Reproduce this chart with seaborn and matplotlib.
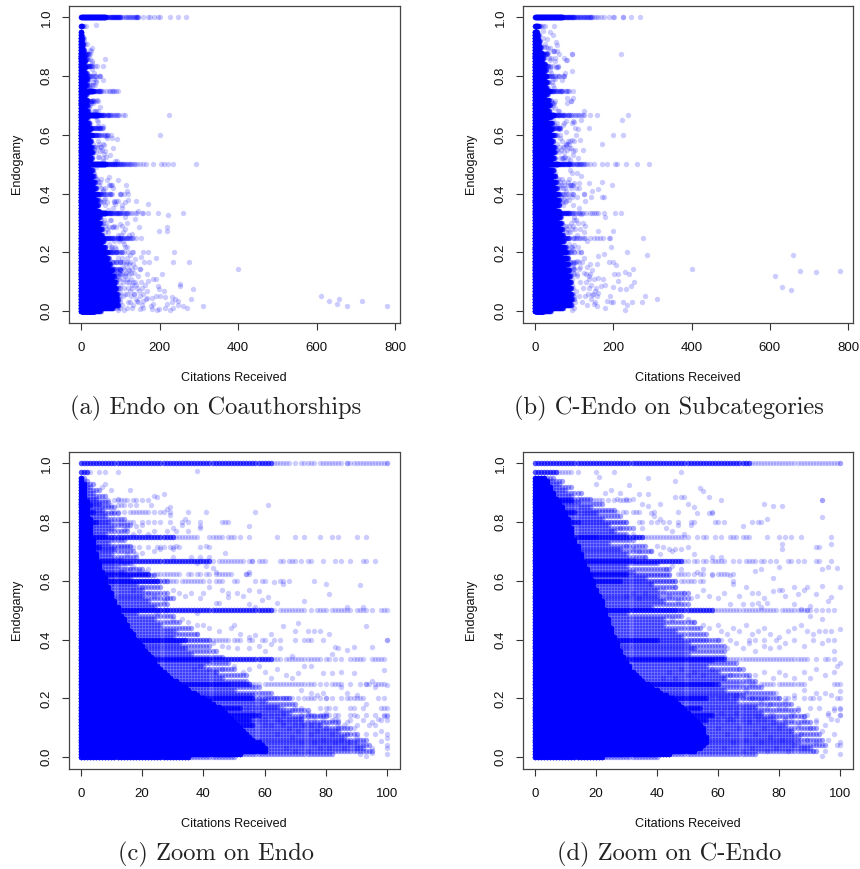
import numpy as np
import pandas as pd
import matplotlib.pyplot as plt
import seaborn as sns

# endogamy levels of the solid mass next to the y axis
mass_levels = [0.95, 0.94, 0.93, 0.92, 0.91, 0.90, 0.89, 0.88, 0.87, 0.86,
               0.85, 0.84, 0.83, 0.82, 0.81, 0.80, 0.79, 0.78, 0.77, 0.76,
               0.75, 0.74, 0.73, 0.72, 0.71, 0.70, 0.69, 0.68, 0.67, 0.66,
               0.65, 0.64, 0.63, 0.62, 0.61, 0.60, 0.59, 0.58, 0.57, 0.56,
               0.55, 0.54, 0.53, 0.52, 0.51, 0.50, 0.49, 0.48, 0.47, 0.46,
               0.45, 0.44, 0.43, 0.42, 0.41, 0.40, 0.39, 0.38, 0.37, 0.36,
               0.35, 0.34, 0.33, 0.32, 0.31, 0.30, 0.29, 0.28, 0.27, 0.26,
               0.25, 0.24, 0.23, 0.22, 0.21, 0.20, 0.19, 0.18, 0.17, 0.16,
               0.15, 0.14, 0.13, 0.12, 0.11, 0.10, 0.09, 0.08, 0.07, 0.06,
               0.05, 0.04, 0.03, 0.02, 0.01, 0.00]

# single points can't be told apart in the mass, so each level only stores how
# far it reaches: opaque part, then the paler part
endo_solid = [0, 0, 1, 1, 1, 1, 1, 1, 2, 2,
              2, 2, 2, 2, 3, 3, 3, 3, 3, 3,
              3, 4, 4, 4, 4, 4, 5, 5, 5, 6,
              6, 6, 7, 7, 8, 8, 8, 9, 9, 10,
              10, 10, 11, 11, 12, 12, 12, 13, 14, 14,
              15, 15, 16, 17, 17, 18, 19, 20, 20, 21,
              22, 23, 24, 24, 25, 26, 27, 28, 29, 31,
              32, 34, 35, 37, 38, 40, 42, 43, 45, 46,
              47, 48, 49, 50, 51, 52, 53, 54, 55, 56,
              58, 59, 60, 60, 52, 35]
endo_thin = [1, 2, 4, 3, 6, 4, 8, 5, 9, 6,
             11, 7, 12, 8, 14, 9, 16, 10, 15, 8,
             8, 14, 9, 16, 11, 17, 10, 18, 12, 16,
             12, 20, 14, 24, 16, 28, 18, 26, 20, 28,
             20, 30, 22, 28, 24, 28, 18, 30, 24, 32,
             26, 36, 30, 38, 30, 42, 32, 42, 34, 44,
             36, 46, 42, 48, 40, 50, 44, 54, 46, 54,
             48, 58, 50, 62, 56, 68, 60, 70, 64, 74,
             68, 80, 72, 84, 78, 88, 84, 90, 86, 93,
             90, 94, 92, 95, 82, 50]
cendo_solid = [3, 4, 4, 5, 5, 6, 6, 7, 8, 8,
               9, 9, 10, 10, 11, 11, 11, 12, 12, 12,
               12, 13, 13, 14, 14, 14, 15, 15, 15, 16,
               16, 17, 17, 18, 18, 19, 19, 19, 20, 20,
               21, 21, 22, 22, 22, 23, 23, 23, 24, 24,
               24, 25, 25, 25, 26, 26, 27, 27, 27, 28,
               28, 29, 29, 30, 31, 31, 32, 33, 34, 35,
               37, 38, 40, 41, 43, 45, 46, 47, 48, 49,
               50, 51, 52, 53, 54, 55, 55, 55, 56, 56,
               56, 55, 54, 52, 44, 22]
cendo_thin = [6, 9, 8, 12, 10, 15, 12, 18, 14, 22,
              18, 26, 20, 28, 22, 30, 24, 32, 26, 30,
              20, 32, 24, 36, 28, 38, 30, 36, 32, 40,
              30, 44, 32, 44, 36, 46, 38, 46, 40, 50,
              40, 50, 42, 50, 38, 46, 30, 48, 42, 52,
              42, 54, 46, 56, 48, 60, 50, 62, 52, 62,
              50, 62, 58, 66, 56, 68, 60, 70, 62, 72,
              58, 74, 62, 78, 68, 80, 66, 84, 72, 86,
              74, 88, 78, 90, 82, 92, 84, 93, 86, 94,
              86, 95, 90, 92, 72, 40]

# the horizontal bands at simple fractions: dark reach, then the points after it
endo_row_levels = [1.0, 0.97, 0.875, 0.857, 0.833, 0.8, 0.75, 0.714, 0.667, 0.625, 0.6, 0.5, 0.4, 0.333, 0.25, 0.2, 0.167, 0.143, 0.125, 0.111]
endo_row_reach = [62, 2, 2, 3, 4, 5, 30, 6, 42, 22, 25, 62, 34, 62, 55, 56, 52, 58, 55, 56]
endo_row_x = [
    [63, 64, 65, 66, 67, 68, 70, 72, 73, 74, 75, 76, 78, 79, 80, 81, 82, 83, 84, 85, 87, 87, 88, 89, 90, 91, 92, 93, 94, 95, 96, 97, 98, 99, 100, 100,
     104, 108, 112, 115, 118, 120, 123, 125, 128, 130, 133, 135, 138, 140, 141, 142, 143, 145, 146, 159, 171, 176, 186, 197, 201, 226, 246, 267],
    [3, 6, 8, 12],
    [3, 4, 5, 6, 7, 8, 9, 11, 12, 13, 14, 15, 17, 18, 20, 22],
    [4, 5, 6, 7, 8, 9, 10, 12, 13, 14, 16, 18, 23],
    [5, 6, 7, 8, 10, 11, 12, 14, 16, 17, 18, 19, 20, 21, 22, 24, 26, 27, 29, 35, 41, 57],
    [6, 7, 8, 9, 10, 11, 12, 13, 14, 15, 16, 17, 20, 22, 24, 26, 29, 33, 35, 39, 46, 47, 48],
    [31, 32, 33, 34, 35, 36, 37, 38, 42, 43, 44, 45, 46, 48, 49, 50, 52, 55, 64, 70, 73, 78, 82, 84, 90, 93],
    [7, 8, 9, 10, 11, 12, 13, 14, 15, 16, 17, 19, 22, 26, 27, 29, 30, 32],
    [43, 45, 46, 47, 48, 49, 50, 51, 52, 53, 55, 56, 56, 58, 59, 60, 65, 66, 68, 69, 70, 72, 74, 75, 79, 83, 85, 88, 92, 93, 96, 108, 113, 225],
    [24, 25, 26, 27, 28, 29, 30, 31, 32, 35, 36, 38, 39, 41, 42, 44, 45, 46, 47, 48, 49, 54, 55],
    [26, 27, 28, 29, 30, 31, 33, 34, 35, 36, 37, 38, 39, 40, 42, 44, 45, 46, 50, 51, 57, 60, 65, 66, 68, 201],
    [63, 65, 66, 67, 68, 69, 70, 71, 72, 73, 75, 77, 78, 79, 80, 82, 83, 84, 85, 86, 87, 88, 90, 91, 92, 93, 95, 98, 99, 100,
     101, 104, 106, 108, 110, 112, 115, 118, 120, 122, 125, 128, 130, 135, 137, 143, 150, 159, 165, 183, 204, 210, 222, 233, 292],
    [35, 36, 37, 38, 39, 40, 41, 42, 43, 44, 45, 46, 47, 48, 50, 51, 52, 55, 56, 59, 60, 63, 65, 70, 73, 74, 75, 79, 100, 102, 110, 120],
    [63, 64, 65, 67, 68, 69, 70, 71, 72, 73, 74, 75, 76, 77, 78, 80, 81, 83, 85, 88, 89, 90, 91, 92, 95, 96, 97, 98, 99,
     102, 105, 108, 110, 112, 114, 116, 118, 120, 125, 129, 137, 143, 154, 159, 170, 197, 260],
    [56, 57, 58, 60, 61, 62, 63, 64, 65, 66, 67, 68, 69, 70, 71, 72, 73, 74, 75, 76, 78, 80, 82, 83, 84, 85, 88, 91, 93, 94, 96, 97, 98, 99,
     102, 104, 105, 108, 110, 112, 114, 116, 118, 120, 122, 125, 128, 130, 133, 139, 153],
    [58, 60, 61, 62, 63, 64, 66, 67, 68, 69, 71, 73, 74, 75, 76, 78, 80, 82, 85, 87, 88, 89, 90, 91, 92, 101, 103, 105, 120, 131, 159, 170, 236],
    [54, 55, 57, 58, 60, 61, 62, 63, 64, 65, 66, 70, 72, 78, 80, 81, 83, 88, 89, 92, 98, 99, 100, 105, 110, 118, 125, 160, 173, 235, 276],
    [60, 62, 64, 66, 72, 74, 75, 76, 78, 79, 80, 81, 83, 84, 88, 89, 93, 96, 99, 100, 110, 120, 130, 150, 400],
    [56, 58, 60, 64, 65, 68, 70, 72, 74, 76, 79, 82, 84, 88, 92, 98, 100, 105, 112, 122, 205],
    [60, 62, 66, 70, 72, 75, 78, 80, 84, 86, 90, 94, 96, 108, 118, 184, 192],
]

cendo_row_levels = [1.0, 0.97, 0.875, 0.833, 0.8, 0.75, 0.667, 0.625, 0.6, 0.5, 0.4, 0.333, 0.25, 0.2, 0.167, 0.143, 0.125]
cendo_row_reach = [70, 7, 12, 13, 14, 35, 48, 30, 28, 58, 40, 62, 60, 56, 54, 58, 56]
cendo_row_x = [
    [71, 72, 73, 74, 75, 76, 77, 78, 79, 80, 81, 82, 83, 84, 85, 86, 87, 88, 89, 90, 91, 92, 93, 94, 95, 96, 97, 98, 99, 100, 100,
     102, 104, 106, 108, 110, 112, 114, 116, 118, 120, 122, 124, 126, 128, 130, 132, 134, 136, 138, 140, 141, 142, 144, 146, 150, 155, 160, 168, 175, 190, 198, 201, 224, 225, 246, 267],
    [8, 9, 10, 11, 12, 14, 20, 26, 48],
    [13, 14, 15, 16, 17, 18, 19, 20, 21, 22, 24, 26, 28, 29, 30, 31, 94, 219],
    [14, 16, 17, 18, 19, 20, 21, 22, 23, 24, 25, 26, 27, 29, 30, 32, 33, 34, 39, 47, 58],
    [15, 16, 17, 18, 19, 20, 21, 22, 23, 24, 25, 26, 27, 28, 29, 30, 34, 35, 38, 40, 42, 44, 47, 51, 52, 59, 60, 62],
    [36, 37, 38, 39, 40, 41, 42, 43, 44, 45, 46, 47, 48, 49, 50, 53, 55, 56, 59, 61, 64, 65, 66, 68, 69, 70, 76, 80, 82, 84, 87, 97],
    [49, 50, 52, 53, 55, 56, 58, 59, 60, 61, 62, 65, 67, 69, 70, 71, 72, 74, 75, 77, 79, 83, 84, 86, 88, 92, 93, 97, 102, 105, 110, 113, 118, 122, 125, 141, 158, 237],
    [31, 32, 33, 34, 35, 36, 37, 38, 39, 40, 41, 42, 43, 44, 47, 48, 49, 50, 52, 54, 55, 58, 60, 61, 62, 63, 138],
    [29, 30, 31, 32, 33, 34, 35, 36, 37, 38, 39, 40, 41, 42, 43, 44, 45, 46, 48, 49, 50, 51, 52, 54, 55, 65, 199, 224],
    [59, 60, 61, 62, 63, 64, 65, 66, 67, 68, 69, 70, 71, 72, 73, 74, 75, 76, 77, 78, 79, 81, 82, 83, 84, 85, 86, 87, 88, 89, 90, 92, 94, 96, 98,
     102, 104, 106, 108, 110, 112, 114, 116, 118, 120, 122, 125, 128, 133, 141, 150, 172, 184, 205, 209, 233, 260, 291],
    [41, 42, 43, 44, 45, 46, 47, 48, 49, 50, 51, 52, 53, 54, 55, 56, 60, 61, 64, 70, 72, 75, 79, 124],
    [63, 64, 65, 66, 67, 68, 69, 70, 71, 72, 73, 74, 75, 76, 77, 78, 79, 80, 81, 82, 83, 84, 85, 86, 87, 88, 89, 92, 95, 96, 98,
     102, 105, 110, 113, 116, 120, 123, 130, 140, 145, 150, 155, 160, 176, 205, 220],
    [61, 62, 63, 64, 65, 66, 67, 68, 70, 71, 72, 74, 75, 76, 77, 78, 80, 81, 82, 83, 84, 85, 86, 87, 88, 98, 99, 100,
     104, 108, 112, 116, 120, 125, 128, 141, 150, 158, 167, 173, 192, 275],
    [58, 60, 61, 62, 63, 65, 66, 68, 70, 71, 72, 73, 74, 75, 76, 80, 82, 83, 85, 88, 91, 93, 100, 110, 118, 235],
    [56, 58, 60, 62, 64, 66, 68, 70, 72, 74, 76, 80, 82, 86, 90, 93, 98, 100, 105, 112, 120, 188, 199],
    [60, 62, 64, 66, 68, 70, 72, 74, 77, 78, 84, 85, 89, 96, 100, 112, 400, 250],
    [58, 60, 63, 65, 68, 70, 73, 75, 79, 82, 84, 88, 92, 99, 106, 130, 140],
]

# loose points off the bands, as (citations, endogamy)
endo_spots = [(38, .975), (8, .93), (7, .92), (10, .91), (16, .91), (12, .88), (24, .89), (27, .895), (25, .885), (61, .857),
              (28, .845), (29, .85), (29, .825), (34, .81), (33, .79), (39, .785), (55, .785), (30, .78), (28, .77), (31, .77),
              (15, .78), (11, .78), (14, .775), (18, .785), (20, .79), (22, .76), (24, .77), (19, .77), (17, .76), (35, .77),
              (39, .78), (25, .715), (26, .71), (30, .71), (31, .72), (47, .695), (41, .72), (42, .715), (39, .715), (18, .69),
              (20, .695), (24, .7), (15, .69), (13, .67), (30, .68), (36, .68), (39, .68), (38, .66), (41, .65), (42, .68),
              (14, .65), (16, .64), (17, .65), (19, .635), (21, .63), (22, .64), (43, .645), (44, .63), (55, .63), (54, .625),
              (11, .6), (76, .6), (80, .59), (91, .585), (66, .59), (63, .595), (59, .6), (17, .57), (20, .58), (22, .56),
              (24, .55), (27, .53), (28, .54), (30, .57), (32, .56), (34, .55), (36, .56), (39, .54), (40, .56), (42, .58),
              (44, .525), (45, .525), (46, .57), (48, .56), (48, .545), (51, .56), (53, .55), (55, .57), (55, .52), (57, .51),
              (58, .565), (59, .535), (61, .545), (64, .525), (73, .53), (81, .555), (87, .51), (92, .51), (38, .49), (25, .49),
              (30, .47), (33, .47), (35, .46), (38, .45), (40, .45), (42, .44), (45, .43), (49, .44), (50, .45), (52, .42),
              (55, .41), (57, .415), (62, .42), (66, .445), (70, .43), (71, .455), (74, .43), (76, .43), (78, .43), (81, .42),
              (93, .445), (31, .43), (38, .42), (43, .39), (46, .38), (48, .375), (51, .37), (55, .37), (58, .38), (60, .36),
              (62, .385), (65, .37), (69, .345), (84, .37), (83, .375), (82, .35), (87, .365), (89, .375), (95, .375), (100, .4),
              (37, .3), (39, .31), (42, .3), (44, .29), (46, .3), (50, .31), (53, .29), (55, .3), (58, .31), (60, .29),
              (62, .27), (64, .3), (67, .28), (69, .27), (71, .285), (73, .31), (75, .31), (79, .285), (82, .285), (85, .29),
              (89, .285), (99, .295), (100, .245), (95, .26), (93, .25), (79, .22), (80, .2), (75, .22), (77, .21), (72, .23),
              (85, .24), (87, .22), (90, .21), (96, .24), (97, .2), (99, .2), (66, .15), (69, .16), (72, .13), (74, .15),
              (80, .15), (83, .13), (87, .12), (90, .14), (93, .18), (95, .12), (97, .13), (99, .14), (100, .14), (100, .08),
              (100, .065), (100, .04), (100, .03), (100, .012), (98, .09), (98, .055), (96, .08), (95, .03), (95, .015), (93, .005),
              (91, .01), (92, .05), (93, .08), (90, .03), (90, .07), (89, .1), (88, .05), (87, .08), (86, .03), (85, .06),
              (84, .1), (83, .05), (82, .08), (81, .03), (80, .1), (79, .06), (78, .03), (77, .09), (76, .05), (75, .08),
              (74, .02), (73, .11), (72, .05), (71, .09), (70, .02), (69, .07), (68, .1), (67, .03), (66, .12), (64, .08),
              (612, .05), (631, .034), (657, .04), (653, .026), (678, .017), (716, .036), (779, .017), (311, .017), (286, .077), (279, .042),
              (222, .327), (170, .366), (139, .375), (144, .342), (137, .312), (147, .286), (198, .273), (220, .286), (220, .273), (129, .262),
              (190, .18), (153, .185), (137, .176), (167, .126), (150, .142), (171, .102), (197, .085), (199, .074), (212, .067), (252, .094),
              (252, .085), (192, .051), (201, .051), (215, .048), (231, .048), (239, .043), (246, .036), (231, .031), (218, .026), (246, .02),
              (260, .018), (271, .01), (235, .01), (226, .003), (214, .01), (199, .009), (194, .003), (180, .008), (182, .023), (177, .019),
              (169, .045), (180, .045), (159, .034), (150, .008), (159, .011), (142, .034), (129, .011), (116, .011), (109, .003), (125, .03),
              (105, .02), (108, .05), (110, .08), (112, .12), (114, .16), (116, .06), (118, .1), (120, .03), (122, .14), (124, .07),
              (126, .11), (128, .05), (130, .09), (132, .02), (134, .13), (136, .06), (138, .1), (140, .04), (142, .08), (144, .12),
              (146, .03), (148, .07), (150, .05), (152, .1), (154, .02), (156, .08), (158, .06), (162, .09), (165, .04), (168, .07),
              (102, .14), (104, .18), (106, .1), (107, .15), (109, .2), (111, .06), (113, .22), (115, .13), (117, .18), (119, .08),
              (121, .16), (123, .1), (125, .19), (127, .13), (129, .08), (131, .16), (133, .1), (135, .06), (137, .15), (139, .09),
              (108, .27), (111, .28), (113, .32), (117, .3), (103, .36), (105, .35), (114, .43), (120, .38), (118, .41), (112, .37),
              (104, .29), (101, .26), (106, .24), (110, .23), (122, .26), (130, .2), (118, .22)]

cendo_spots = [(21, .955), (37, .95), (46, .94), (20, .93), (31, .925), (34, .895), (37, .895), (41, .86), (46, .885), (48, .885),
               (49, .885), (50, .86), (52, .85), (53, .83), (54, .915), (55, .905), (57, .885), (61, .875), (75, .86), (78, .855),
               (81, .855), (94, .875), (94, .818), (76, .81), (68, .785), (71, .8), (73, .8), (74, .8), (57, .83), (58, .83),
               (51, .79), (47, .79), (23, .9), (25, .91), (27, .88), (28, .9), (30, .88), (32, .88), (35, .86), (37, .855),
               (38, .83), (39, .82), (41, .81), (43, .78), (45, .77), (49, .76), (32, .76), (35, .78), (28, .78), (25, .77),
               (30, .72), (32, .71), (34, .7), (36, .68), (38, .7), (40, .72), (41, .69), (42, .715), (44, .71), (45, .7),
               (46, .71), (48, .71), (50, .715), (52, .69), (61, .68), (58, .68), (81, .727), (81, .707), (80, .648), (78, .61),
               (93, .715), (99, .645), (96, .648), (94, .64), (72, .635), (74, .64), (43, .64), (45, .65), (48, .64), (53, .63),
               (55, .64), (58, .62), (64, .62), (65, .625), (65, .59), (67, .55), (69, .58), (71, .56), (73, .56), (75, .54),
               (78, .565), (80, .57), (81, .57), (82, .55), (85, .58), (86, .555), (89, .58), (88, .57), (92, .555), (96, .53),
               (97, .545), (89, .5), (90, .515), (38, .59), (36, .56), (34, .54), (32, .56), (30, .55), (42, .57), (44, .55),
               (46, .58), (47, .53), (49, .56), (51, .54), (53, .55), (55, .57), (57, .55), (60, .54), (62, .56), (64, .52),
               (68, .52), (71, .52), (73, .525), (74, .51), (76, .525), (85, .52), (87, .505), (90, .48), (94, .47), (45, .47),
               (50, .47), (52, .46), (55, .45), (57, .44), (60, .45), (61, .43), (63, .42), (65, .44), (67, .43), (69, .45),
               (71, .42), (73, .43), (75, .44), (77, .42), (80, .41), (83, .43), (85, .44), (87, .45), (89, .43), (91, .42),
               (93, .43), (95, .43), (97, .43), (100, .435), (96, .4), (98, .4), (98, .36), (94, .39), (91, .4), (88, .38),
               (85, .4), (82, .39), (80, .375), (77, .37), (75, .38), (72, .36), (70, .39), (68, .37), (66, .39), (63, .37),
               (100, .32), (99, .31), (98, .29), (95, .28), (92, .3), (90, .27), (88, .29), (85, .27), (82, .28), (80, .29),
               (78, .27), (75, .29), (72, .28), (70, .27), (67, .3), (64, .28), (62, .27), (58, .3), (55, .28), (52, .29),
               (50, .28), (48, .3), (46, .27), (44, .29), (42, .27), (100, .225), (99, .2), (97, .21), (95, .22), (92, .22),
               (90, .2), (88, .23), (85, .21), (82, .19), (79, .22), (77, .18), (74, .19), (71, .2), (69, .23), (66, .21),
               (100, .165), (100, .145), (100, .05), (100, .04), (100, .01), (98, .16), (97, .13), (96, .15), (95, .11), (94, .09),
               (99, .04), (98, .08), (96, .06), (95, .02), (94, .005), (92, .05), (92, .12), (91, .02), (90, .1), (89, .06),
               (88, .14), (88, .03), (87, .08), (86, .11), (85, .04), (84, .09), (83, .02), (82, .13), (81, .06), (80, .1),
               (79, .03), (78, .12), (77, .07), (76, .02), (75, .1), (74, .05), (73, .14), (72, .08), (71, .03), (70, .12),
               (69, .06), (68, .02), (67, .1), (66, .15), (65, .05), (64, .13), (63, .08), (62, .03), (61, .15), (60, .1),
               (613, .12), (631, .082), (654, .071), (658, .191), (678, .138), (717, .133), (779, .138), (311, .04), (287, .192), (280, .05),
               (273, .032), (252, .1), (241, .127), (230, .132), (218, .075), (213, .104), (213, .127), (202, .127), (207, .157), (193, .22),
               (190, .25), (198, .272), (162, .272), (178, .32), (196, .43), (170, .44), (170, .387), (175, .387), (162, .417), (144, .39),
               (145, .408), (139, .435), (113, .435), (128, .375), (124, .4), (170, .57), (223, .65), (97, .727), (92, .714), (124, .68),
               (117, .65), (101, .625), (116, .583), (94, .583), (230, .004), (235, .02), (247, .03), (224, .03), (200, .03), (194, .03),
               (183, .035), (192, .05), (179, .012), (158, .017), (150, .025), (246, .087), (233, .075), (200, .083), (180, .09), (169, .087),
               (173, .11), (160, .112), (162, .063), (154, .07), (145, .055), (137, .08), (139, .12), (162, .188), (175, .196), (158, .16),
               (102, .03), (104, .07), (106, .12), (108, .17), (110, .22), (112, .05), (114, .1), (116, .15), (118, .2), (120, .03),
               (122, .08), (124, .13), (126, .18), (128, .05), (130, .1), (132, .15), (134, .02), (136, .06), (138, .11), (140, .16),
               (142, .04), (144, .09), (146, .14), (148, .06), (150, .11), (152, .03), (155, .08), (158, .05), (102, .28), (105, .31),
               (108, .26), (110, .3), (113, .35), (116, .28), (118, .33), (122, .3), (125, .27), (128, .29), (134, .24), (104, .42),
               (107, .47), (110, .52), (103, .55), (106, .39), (112, .42), (118, .46), (122, .55), (100, .58), (105, .6), (110, .62)]

x_ticks_full = [0, 200, 400, 600, 800]
x_ticks_zoom = [0, 20, 40, 60, 80, 100]
y_ticks = [0.0, 0.2, 0.4, 0.6, 0.8, 1.0]
captions = ['(a) Endo on Coauthorships', '(b) C-Endo on Subcategories', '(c) Zoom on Endo', '(d) Zoom on C-Endo']

SOLID_LAYERS = 14
ROW_LAYERS = 5
THIN_LAYERS = 2


def build_points(solid, thin, row_levels, row_reach, row_x, spots):
    frames = []
    for lvl, s, t in zip(mass_levels, solid, thin):
        frames.append(pd.DataFrame({'citations': np.repeat(np.arange(s + 1), SOLID_LAYERS), 'endogamy': lvl}))
        frames.append(pd.DataFrame({'citations': np.repeat(np.arange(s + 1, t + 1), THIN_LAYERS), 'endogamy': lvl}))
    for lvl, r, xs in zip(row_levels, row_reach, row_x):
        frames.append(pd.DataFrame({'citations': np.repeat(np.arange(r + 1), ROW_LAYERS), 'endogamy': lvl}))
        frames.append(pd.DataFrame({'citations': xs, 'endogamy': lvl}))
    frames.append(pd.DataFrame(spots, columns=['citations', 'endogamy']))
    return pd.concat(frames, ignore_index=True)


endo_df = build_points(endo_solid, endo_thin, endo_row_levels, endo_row_reach, endo_row_x, endo_spots)
cendo_df = build_points(cendo_solid, cendo_thin, cendo_row_levels, cendo_row_reach, cendo_row_x, cendo_spots)

sns.set_theme(style='ticks')
plt.rcParams['font.family'] = ['Liberation Sans', 'DejaVu Sans']

W, H = 860, 869
fig = plt.figure(figsize=(W / 100, H / 100), dpi=100, facecolor='white')

# pixel boxes of the four panels: left, top, right, bottom
boxes = [(68.5, 6, 399.5, 322.5), (522.5, 6, 852.5, 322.5), (68.5, 452, 399.5, 768.5), (522.5, 452, 852.5, 768.5)]
caption_x = [216, 669, 216, 669]
panels = [(endo_df, x_ticks_full, (-32, 811)), (cendo_df, x_ticks_full, (-32, 811)),
          (endo_df[endo_df.citations <= 100], x_ticks_zoom, (-4, 104)),
          (cendo_df[cendo_df.citations <= 100], x_ticks_zoom, (-4, 104))]

for box, (data, xt, xlim), cap, cx in zip(boxes, panels, captions, caption_x):
    l, t, r, b = box
    ax = fig.add_axes([l / W, 1 - b / H, (r - l) / W, (b - t) / H])
    sns.scatterplot(data=data, x='citations', y='endogamy', color='#0000ff', alpha=0.2, s=15, linewidth=0, legend=False, ax=ax)
    ax.set_xlim(*xlim)
    ax.set_ylim(-0.0385, 1.0385)
    ax.set_xticks(xt)
    ax.set_yticks(y_ticks)
    ax.set_yticklabels([f'{v:.1f}' for v in y_ticks], rotation=90, va='center')
    ax.tick_params(length=5.2, width=0.8, color='#333333', labelsize=9.5, labelcolor='#111111')
    ax.tick_params(axis='x', pad=9)
    ax.tick_params(axis='y', pad=6)
    for spine in ax.spines.values():
        spine.set_linewidth(0.9)
        spine.set_color('#444444')
    ax.set_xlabel('Citations Received', fontsize=9.1, labelpad=13, color='#111111')
    ax.set_ylabel('Endogamy', fontsize=9.1, labelpad=13, color='#111111')
    fig.text(cx / W, 1 - (b + 85.5) / H, cap, family='cmr10', fontsize=17.6, ha='center', va='center', color='#222222')

fig.savefig('out.png', dpi=100)
